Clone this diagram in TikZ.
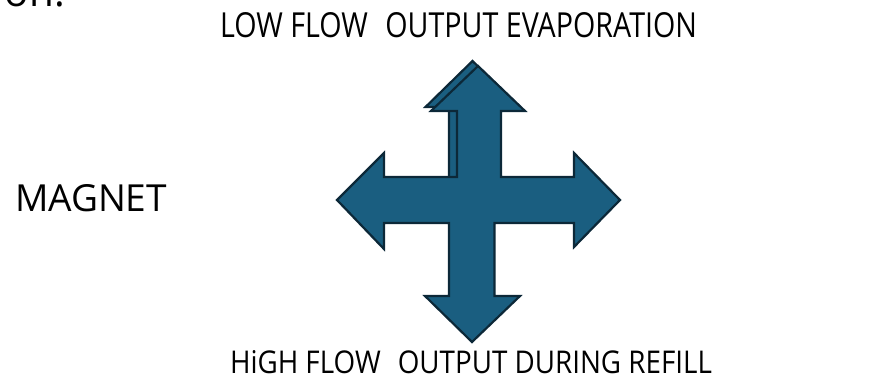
\documentclass[tikz,border=0pt]{standalone}
\usepackage{fontspec}
\usepackage{graphicx}
\setmainfont{Open Sans}
\definecolor{arrfill}{RGB}{26,94,128}
\definecolor{arrline}{RGB}{12,40,56}
\begin{document}
\begin{tikzpicture}[x=1pt,y=-1pt,
  arrowshape/.style={fill=arrfill,draw=arrline,line width=2.2pt,line join=miter},
  lbl/.style={inner sep=0pt,outer sep=0pt,text=black}]
\useasboundingbox (0,0) rectangle (888,390);
\begin{scope}
\clip (0,0) rectangle (888,390);
\node[lbl,anchor=south west] (cut) at (5,7.5) {\resizebox{60pt}{!}{on:}};
\end{scope}
% shadow up arrow
\draw[arrowshape] (472.5,61) -- (519.5,107) -- (495.5,107) -- (495.5,190) -- (449,190) -- (449,107) -- (425.5,107) -- cycle;
% main cross
\draw[arrowshape] (478,66) -- (525,111) -- (501,111) -- (501,177) -- (574,177) -- (574,153) -- (620,200) -- (574,247) -- (574,223) -- (494.5,223) -- (494.5,296) -- (520,296) -- (472,342) -- (425,296) -- (449,296) -- (449,223) -- (384,223) -- (384,249) -- (337,200) -- (384,153) -- (384,177) -- (457,177) -- (457,111) -- (431,111) -- cycle;
\node[lbl,anchor=south west] (top) at (220,38) {\resizebox{477pt}{25pt}{LOW FLOW\hspace{0.35em} OUTPUT EVAPORATION}};
\node[lbl,anchor=south west] (bottom) at (230,374.3) {\resizebox{482pt}{23pt}{HiGH FLOW\hspace{0.35em} OUTPUT DURING REFILL}};
\node[lbl,anchor=south west] (magnet) at (15,212) {\resizebox{152pt}{27pt}{MAGNET}};
\end{tikzpicture}
\end{document}
